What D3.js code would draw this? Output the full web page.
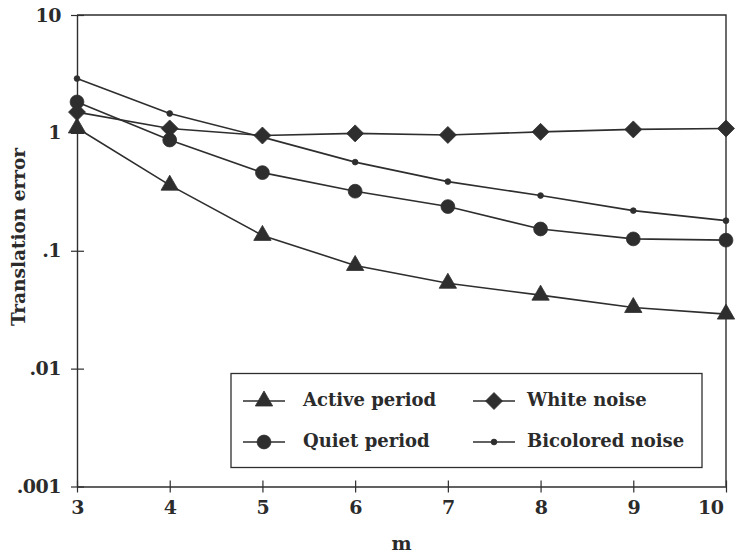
<!DOCTYPE html>
<html>
<head>
<meta charset="utf-8">
<script src="https://cdn.jsdelivr.net/npm/d3@7"></script>
<style>
  html, body { margin: 0; padding: 0; background: #fff; }
  svg text { font-family: "DejaVu Serif", "Liberation Serif", serif; font-weight: bold; fill: #2b2b2b; }
</style>
</head>
<body>
<svg id="chart" width="737" height="553"></svg>
<script>
// Embedding dimension m
const mValues = [3, 4, 5, 6, 7, 8, 9, 10];

// Translation error per series
const activePeriod    = [1.10, 0.36, 0.135, 0.075, 0.053, 0.042, 0.033, 0.029];
const quietPeriod     = [1.83, 0.87, 0.46, 0.32, 0.237, 0.153, 0.126, 0.123];
const whiteNoise      = [1.50, 1.09, 0.95, 0.99, 0.96, 1.02, 1.07, 1.09];
const bicoloredNoise  = [2.89, 1.46, 0.92, 0.565, 0.386, 0.294, 0.219, 0.18];

const seriesNames = ["Active period", "Quiet period", "White noise", "Bicolored noise"];
const yTickValues = [0.001, 0.01, 0.1, 1, 10];
const yTickLabels = [".001", ".01", ".1", "1", "10"];
const xTitle = "m";
const yTitle = "Translation error";

const ink = "#2e2e2e";
const svg = d3.select("#chart");
const plotLeft = 77, plotRight = 726, plotTop = 15, plotBottom = 486.5;

const x = d3.scaleLinear().domain([3, 10]).range([plotLeft, plotRight]);
const y = d3.scaleLog().domain([0.001, 10]).range([plotBottom, plotTop]);

// Frame: top and right edges
svg.append("path")
  .attr("d", `M${plotLeft},${plotTop}H${plotRight}V${plotBottom}`)
  .attr("fill", "none").attr("stroke", ink).attr("stroke-width", 1.4);

// Bottom axis with ticks crossing the line
const xAxis = svg.append("g").attr("transform", `translate(0,${plotBottom})`)
  .call(d3.axisBottom(x).tickValues(mValues).tickFormat(d3.format("d")).tickSizeInner(5).tickSizeOuter(0));
xAxis.attr("font-family", null).attr("font-size", null);
xAxis.select(".domain").attr("stroke", ink).attr("stroke-width", 1.4);
xAxis.selectAll(".tick line").attr("stroke", ink).attr("stroke-width", 1.2).attr("y1", -6).attr("y2", 6);
xAxis.selectAll(".tick text").attr("y", 14).attr("font-size", 19).attr("letter-spacing", -0.5).attr("fill", null);
// keep the last label inside the page
xAxis.selectAll(".tick text").filter(d => d === 10).attr("text-anchor", "end").attr("x", -3);

// Left axis with ticks crossing the line
const yAxis = svg.append("g").attr("transform", `translate(${plotLeft},0)`)
  .call(d3.axisLeft(y).tickValues(yTickValues).tickFormat((d, i) => yTickLabels[i]).tickSizeInner(6).tickSizeOuter(0));
yAxis.attr("font-family", null).attr("font-size", null);
yAxis.select(".domain").attr("stroke", ink).attr("stroke-width", 1.4);
yAxis.selectAll(".tick line").attr("stroke", ink).attr("stroke-width", 1.2).attr("x1", -6).attr("x2", 7);
yAxis.selectAll(".tick text").attr("x", -16).attr("font-size", 19).attr("letter-spacing", -0.5).attr("fill", null);

// Axis titles
svg.append("text").attr("x", x(6.5)).attr("y", 545).attr("text-anchor", "middle")
  .attr("dominant-baseline", "middle").attr("font-size", 19).text(xTitle);
svg.append("text").attr("transform", "translate(20,237) rotate(-90)")
  .attr("text-anchor", "middle").attr("dominant-baseline", "middle").attr("font-size", 18.5).text(yTitle);

// Marker shapes
const triangle = d3.symbol().type(d3.symbolTriangle).size(130)();
const circle = d3.symbol().type(d3.symbolCircle).size(150)();
const diamond = "M0,-8.5L8.5,0L0,8.5L-8.5,0Z";
const dot = d3.symbol().type(d3.symbolCircle).size(26)();

const series = [
  { name: seriesNames[0], values: activePeriod, shape: triangle },
  { name: seriesNames[1], values: quietPeriod, shape: circle },
  { name: seriesNames[2], values: whiteNoise, shape: diamond },
  { name: seriesNames[3], values: bicoloredNoise, shape: dot }
];

const line = d3.line().x((d, i) => x(mValues[i])).y(d => y(d));

const plot = svg.append("g");
series.forEach(s => {
  plot.append("path").attr("d", line(s.values))
    .attr("fill", "none").attr("stroke", ink).attr("stroke-width", 1.6);
});
series.forEach(s => {
  plot.selectAll(null).data(s.values).enter().append("path")
    .attr("d", s.shape)
    .attr("transform", (d, i) => `translate(${x(mValues[i])},${y(d)})`)
    .attr("fill", ink).attr("stroke", ink).attr("stroke-width", 0.8);
});

// Legend
const legend = svg.append("g");
legend.append("rect").attr("x", 231).attr("y", 373.5).attr("width", 471).attr("height", 94)
  .attr("fill", "#fff").attr("stroke", ink).attr("stroke-width", 1.3);
const legendItems = [
  { s: series[0], lx: 243, tx: 303, cy: 401 },
  { s: series[1], lx: 243, tx: 303, cy: 442 },
  { s: series[2], lx: 473, tx: 527, cy: 401 },
  { s: series[3], lx: 473, tx: 527, cy: 442 }
];
legendItems.forEach(it => {
  legend.append("line").attr("x1", it.lx).attr("x2", it.lx + 42)
    .attr("y1", it.cy).attr("y2", it.cy).attr("stroke", ink).attr("stroke-width", 1.5);
  legend.append("path").attr("d", it.s.shape)
    .attr("transform", `translate(${it.lx + 21},${it.cy})`)
    .attr("fill", ink).attr("stroke", ink).attr("stroke-width", 0.8);
  legend.append("text").attr("x", it.tx).attr("y", it.cy).attr("dominant-baseline", "middle")
    .attr("font-size", 18).text(it.s.name);
});
</script>
</body>
</html>
